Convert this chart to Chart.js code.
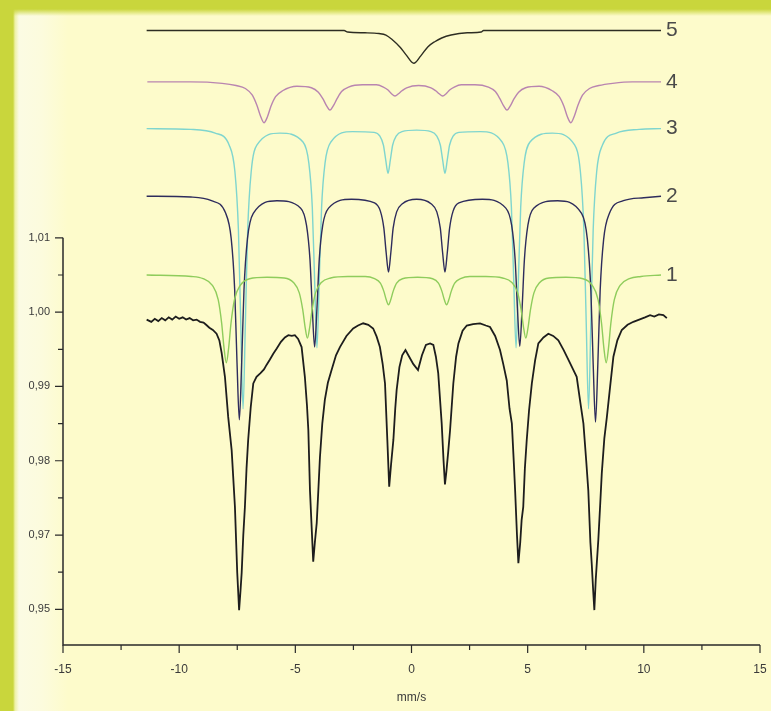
<!DOCTYPE html>
<html>
<head>
<meta charset="utf-8">
<script src="https://cdn.jsdelivr.net/npm/chart.js@4.4.1/dist/chart.umd.min.js"></script>
<style>
  html, body { margin: 0; padding: 0; background: #fdfbcb; }
  #wrap { position: relative; width: 771px; height: 711px; background: #fdfbcb; overflow: hidden; }
  .band-left { position: absolute; left: 0; top: 0; width: 70px; height: 100%;
    background: linear-gradient(to right, #c9d63c 0, #c9d63c 13px, #eef1a6 15px, #fbfbe3 19px, #fcfbdd 42px, rgba(253,251,203,0) 68px); }
  .band-top { position: absolute; left: 0; top: 0; width: 100%; height: 16px;
    background: linear-gradient(to bottom, #c9d63c 0, #c9d63c 9px, rgba(253,251,203,0) 16px); }
  canvas { position: absolute; left: 0; top: 0; }
</style>
</head>
<body>
<div id="wrap">
  <div class="band-left"></div>
  <div class="band-top"></div>
  <canvas id="spectrum" width="771" height="711"></canvas>
</div>
<script>
// Axis ticks
const X_MAJOR = [-15, -10, -5, 0, 5, 10, 15];
const X_LABELS = ['-15', '-10', '-5', '0', '5', '10', '15'];
const X_MINOR = [-12.5, -7.5, -2.5, 2.5, 7.5, 12.5];
const Y_MAJOR = [0.96, 0.97, 0.98, 0.99, 1.00, 1.01];
const Y_LABELS = ['0,95', '0,97', '0,98', '0,99', '1,00', '1,01'];
const Y_MINOR = [0.965, 0.975, 0.985, 0.995, 1.005];

// Measured spectrum [velocity mm/s, relative transmission]
const measured = [
  [-11.40,0.9990],[-11.20,0.9987],[-11.05,0.9991],[-10.90,0.9988],[-10.75,0.9992],[-10.60,0.9989],
  [-10.45,0.9993],[-10.30,0.9990],[-10.15,0.9994],[-10.00,0.9991],[-9.85,0.9993],[-9.70,0.9990],
  [-9.55,0.9992],[-9.40,0.9989],[-9.25,0.9990],[-9.10,0.9987],[-8.95,0.9986],[-8.84,0.9983],
  [-8.70,0.9979],[-8.55,0.9976],[-8.39,0.9971],[-8.27,0.9962],[-8.17,0.9945],[-8.03,0.9913],
  [-7.89,0.9859],[-7.74,0.9814],[-7.60,0.9738],[-7.50,0.9649],[-7.42,0.9599],[-7.36,0.9625],
  [-7.31,0.9649],[-7.24,0.9700],[-7.17,0.9738],[-7.10,0.9790],[-7.03,0.9828],[-6.92,0.9872],
  [-6.81,0.9904],[-6.67,0.9913],[-6.50,0.9918],[-6.35,0.9923],[-6.24,0.9929],[-6.10,0.9936],
  [-5.95,0.9944],[-5.80,0.9951],[-5.62,0.9960],[-5.45,0.9966],[-5.30,0.9969],[-5.15,0.9968],
  [-5.02,0.9969],[-4.88,0.9964],[-4.73,0.9953],[-4.59,0.9913],[-4.50,0.9875],[-4.44,0.9841],
  [-4.37,0.9760],[-4.30,0.9712],[-4.23,0.9664],[-4.16,0.9690],[-4.08,0.9716],[-4.01,0.9760],
  [-3.94,0.9805],[-3.84,0.9850],[-3.73,0.9882],[-3.60,0.9905],[-3.44,0.9922],[-3.25,0.9942],
  [-3.08,0.9953],[-2.80,0.9968],[-2.51,0.9978],[-2.30,0.9982],[-2.08,0.9985],[-1.86,0.9983],
  [-1.65,0.9978],[-1.50,0.9967],[-1.36,0.9953],[-1.24,0.9930],[-1.14,0.9904],[-1.04,0.9828],
  [-0.96,0.9765],[-0.88,0.9795],[-0.78,0.9828],[-0.70,0.9870],[-0.64,0.9895],[-0.52,0.9926],
  [-0.40,0.9942],[-0.26,0.9949],[-0.10,0.9940],[0.08,0.9930],[0.28,0.9922],[0.45,0.9942],
  [0.62,0.9956],[0.80,0.9958],[0.94,0.9956],[1.05,0.9940],[1.15,0.9918],[1.30,0.9850],
  [1.38,0.9800],[1.44,0.9768],[1.50,0.9785],[1.58,0.9812],[1.66,0.9841],[1.80,0.9904],
  [1.92,0.9940],[2.02,0.9958],[2.20,0.9975],[2.38,0.9982],[2.65,0.9984],[2.95,0.9985],
  [3.20,0.9982],[3.38,0.9980],[3.60,0.9968],[3.81,0.9949],[3.95,0.9930],[4.10,0.9908],
  [4.22,0.9870],[4.32,0.9850],[4.40,0.9800],[4.46,0.9760],[4.54,0.9700],[4.60,0.9662],
  [4.68,0.9690],[4.74,0.9720],[4.81,0.9738],[4.88,0.9790],[4.96,0.9828],[5.06,0.9868],
  [5.18,0.9904],[5.32,0.9935],[5.46,0.9958],[5.68,0.9966],[5.89,0.9971],[6.10,0.9968],
  [6.32,0.9962],[6.55,0.9949],[6.83,0.9931],[6.97,0.9922],[7.11,0.9913],[7.26,0.9880],
  [7.40,0.9850],[7.52,0.9800],[7.61,0.9760],[7.70,0.9690],[7.76,0.9660],[7.82,0.9625],
  [7.87,0.9599],[7.93,0.9640],[8.04,0.9693],[8.12,0.9740],[8.19,0.9783],[8.30,0.9830],
  [8.41,0.9859],[8.55,0.9900],[8.69,0.9940],[8.86,0.9962],[9.05,0.9976],[9.30,0.9983],
  [9.55,0.9987],[9.80,0.9990],[10.05,0.9993],[10.27,0.9996],[10.45,0.9994],[10.65,0.9997],
  [10.84,0.9996],[10.99,0.9992]
];

// Subspectrum 1 (green)
const sub1 = [
  [-11.40,1.0050],[-9.47,1.0048],[-8.97,1.0045],[-8.57,1.0036],[-8.32,1.0017],[-8.17,0.9985],
  [-8.07,0.9952],[-7.97,0.9932],[-7.87,0.9952],[-7.77,0.9985],[-7.62,1.0017],[-7.37,1.0036],
  [-6.97,1.0045],[-6.22,1.0047],[-5.48,1.0046],[-5.08,1.0040],[-4.83,1.0026],[-4.68,1.0003],
  [-4.58,0.9980],[-4.48,0.9965],[-4.38,0.9980],[-4.28,1.0003],[-4.13,1.0026],[-3.88,1.0040],
  [-3.48,1.0046],[-2.74,1.0048],[-1.99,1.0048],[-1.59,1.0045],[-1.34,1.0039],[-1.19,1.0028],
  [-1.09,1.0017],[-0.99,1.0010],[-0.89,1.0017],[-0.79,1.0028],[-0.64,1.0039],[-0.39,1.0045],
  [0.26,1.0047],[0.91,1.0045],[1.16,1.0039],[1.31,1.0028],[1.41,1.0017],[1.51,1.0010],
  [1.61,1.0017],[1.71,1.0028],[1.86,1.0039],[2.11,1.0045],[2.51,1.0048],[3.20,1.0048],
  [3.92,1.0046],[4.32,1.0040],[4.57,1.0026],[4.72,1.0003],[4.82,0.9980],[4.92,0.9965],
  [5.02,0.9980],[5.12,1.0003],[5.27,1.0026],[5.52,1.0040],[5.92,1.0046],[6.65,1.0047],
  [7.38,1.0045],[7.78,1.0036],[8.03,1.0017],[8.18,0.9985],[8.28,0.9952],[8.38,0.9932],
  [8.48,0.9952],[8.58,0.9985],[8.73,1.0017],[8.98,1.0036],[9.38,1.0045],[9.88,1.0048],
  [10.74,1.0050]
];

// Subspectrum 2 (navy)
const sub2 = [
  [-11.40,1.0156],[-9.50,1.0155],[-8.61,1.0150],[-8.01,1.0134],[-7.76,1.0099],[-7.61,1.0030],
  [-7.51,0.9932],[-7.41,0.9855],[-7.31,0.9932],[-7.21,1.0030],[-7.06,1.0099],[-6.81,1.0133],
  [-5.79,1.0150],[-4.77,1.0140],[-4.52,1.0117],[-4.37,1.0071],[-4.27,1.0005],[-4.17,0.9953],
  [-4.07,1.0005],[-3.97,1.0071],[-3.82,1.0117],[-3.57,1.0140],[-2.58,1.0152],[-1.59,1.0147],
  [-1.34,1.0136],[-1.19,1.0113],[-1.09,1.0080],[-0.99,1.0054],[-0.89,1.0080],[-0.79,1.0113],
  [-0.64,1.0135],[-0.39,1.0146],[0.22,1.0152],[0.84,1.0146],[1.09,1.0135],[1.24,1.0113],
  [1.34,1.0080],[1.44,1.0054],[1.54,1.0080],[1.64,1.0113],[1.79,1.0136],[2.04,1.0147],
  [3.05,1.0152],[4.06,1.0140],[4.31,1.0117],[4.46,1.0071],[4.56,1.0005],[4.66,0.9954],
  [4.76,1.0005],[4.86,1.0071],[5.01,1.0117],[5.26,1.0140],[6.29,1.0150],[7.32,1.0133],
  [7.57,1.0098],[7.72,1.0029],[7.82,0.9930],[7.92,0.9852],[8.02,0.9930],[8.12,1.0029],
  [8.27,1.0098],[8.52,1.0133],[9.12,1.0150],[10.00,1.0154],[10.74,1.0156]
];

// Subspectrum 3 (cyan)
const sub3 = [
  [-11.40,1.0247],[-9.50,1.0246],[-8.45,1.0241],[-7.85,1.0225],[-7.60,1.0189],[-7.45,1.0111],
  [-7.35,0.9986],[-7.25,0.9870],[-7.15,0.9986],[-7.05,1.0111],[-6.90,1.0189],[-6.65,1.0225],
  [-5.66,1.0241],[-4.67,1.0229],[-4.42,1.0201],[-4.27,1.0141],[-4.17,1.0043],[-4.07,0.9952],
  [-3.97,1.0043],[-3.87,1.0141],[-3.72,1.0201],[-3.47,1.0229],[-2.54,1.0243],[-1.61,1.0242],
  [-1.36,1.0237],[-1.21,1.0225],[-1.11,1.0205],[-1.01,1.0187],[-0.91,1.0205],[-0.81,1.0225],
  [-0.66,1.0237],[-0.41,1.0243],[0.22,1.0245],[0.84,1.0243],[1.09,1.0237],[1.24,1.0225],
  [1.34,1.0205],[1.44,1.0187],[1.54,1.0205],[1.64,1.0225],[1.79,1.0237],[2.04,1.0242],
  [2.97,1.0243],[3.90,1.0229],[4.15,1.0201],[4.30,1.0141],[4.40,1.0043],[4.50,0.9952],
  [4.60,1.0043],[4.70,1.0141],[4.85,1.0201],[5.10,1.0229],[6.06,1.0241],[7.02,1.0225],
  [7.27,1.0189],[7.42,1.0111],[7.52,0.9986],[7.62,0.9870],[7.72,0.9986],[7.82,1.0111],
  [7.97,1.0189],[8.22,1.0225],[8.82,1.0241],[9.80,1.0246],[10.74,1.0247]
];

// Subspectrum 4 (pink)
const sub4 = [
  [-11.37,1.0310],[-9.50,1.0310],[-8.15,1.0308],[-7.55,1.0305],[-7.15,1.0301],[-6.85,1.0292],
  [-6.65,1.0278],[-6.50,1.0264],[-6.35,1.0255],[-6.20,1.0263],[-6.05,1.0277],[-5.85,1.0290],
  [-5.55,1.0298],[-4.93,1.0304],[-4.31,1.0302],[-4.01,1.0296],[-3.81,1.0287],[-3.66,1.0278],
  [-3.51,1.0272],[-3.36,1.0278],[-3.21,1.0287],[-3.01,1.0297],[-2.71,1.0303],[-2.11,1.0306],
  [-1.51,1.0306],[-1.21,1.0303],[-1.01,1.0299],[-0.86,1.0294],[-0.71,1.0291],[-0.56,1.0294],
  [-0.41,1.0298],[-0.21,1.0302],[0.31,1.0305],[0.84,1.0302],[1.04,1.0298],[1.19,1.0294],
  [1.34,1.0291],[1.49,1.0294],[1.64,1.0299],[1.84,1.0303],[2.14,1.0306],[2.73,1.0306],
  [3.31,1.0303],[3.61,1.0297],[3.81,1.0287],[3.96,1.0278],[4.11,1.0272],[4.26,1.0278],
  [4.41,1.0287],[4.61,1.0296],[4.91,1.0302],[5.49,1.0304],[6.06,1.0298],[6.36,1.0290],
  [6.56,1.0277],[6.71,1.0263],[6.86,1.0255],[7.01,1.0264],[7.16,1.0278],[7.36,1.0292],
  [7.66,1.0301],[8.06,1.0305],[8.66,1.0308],[9.50,1.0310],[10.74,1.0310]
];

// Subspectrum 5 (dark)
const sub5 = [
  [-11.40,1.0379],[-2.90,1.0379],[-2.75,1.0377],[-2.00,1.0376],[-1.40,1.0375],[-1.10,1.0373],
  [-0.80,1.0366],[-0.50,1.0357],[-0.25,1.0347],[0.10,1.0335],[0.40,1.0345],[0.70,1.0357],
  [1.00,1.0364],[1.30,1.0369],[1.70,1.0373],[2.40,1.0376],[3.00,1.0377],[3.10,1.0379],
  [10.74,1.0379]
];

const components = [
  { tag: '1', points: sub1, color: '#8fcc5c' },
  { tag: '2', points: sub2, color: '#2e2c5c' },
  { tag: '3', points: sub3, color: '#7fd5ce' },
  { tag: '4', points: sub4, color: '#b985b0' },
  { tag: '5', points: sub5, color: '#2d2d22' }
];

const toXY = rows => rows.map(([x, y]) => ({ x, y }));

const datasets = [
  {
    label: 'measured',
    data: toXY(measured),
    borderColor: '#1d1d1d',
    borderWidth: 1.8,
    tension: 0
  },
  ...components.map(c => ({
    label: c.tag,
    tag: c.tag,
    data: toXY(c.points),
    borderColor: c.color,
    borderWidth: 1.4,
    cubicInterpolationMode: 'monotone'
  }))
];

/**
 * Axis lines, tick marks and curve numbers
 */
const axesPlugin = {
  id: 'axesPlugin',
  afterDraw(chart) {
    const { ctx, chartArea, scales: { x, y } } = chart;
    const left = chartArea.left;
    const bottom = chartArea.bottom;
    ctx.save();
    ctx.strokeStyle = '#2a2a2a';
    ctx.lineWidth = 1.5;
    ctx.beginPath();
    ctx.moveTo(left, y.getPixelForValue(Y_MAJOR[Y_MAJOR.length - 1]));
    ctx.lineTo(left, bottom);
    ctx.lineTo(chartArea.right, bottom);
    ctx.stroke();

    ctx.lineWidth = 1.2;
    ctx.beginPath();
    Y_MAJOR.forEach(v => { const p = y.getPixelForValue(v); ctx.moveTo(left - 8, p); ctx.lineTo(left, p); });
    Y_MINOR.forEach(v => { const p = y.getPixelForValue(v); ctx.moveTo(left - 5, p); ctx.lineTo(left, p); });
    X_MAJOR.forEach(v => { const p = x.getPixelForValue(v); ctx.moveTo(p, bottom); ctx.lineTo(p, bottom + 8); });
    X_MINOR.forEach(v => { const p = x.getPixelForValue(v); ctx.moveTo(p, bottom); ctx.lineTo(p, bottom + 5); });
    ctx.stroke();

    // curve numbers at the right end of each subspectrum
    ctx.fillStyle = '#4a4a4a';
    ctx.font = '21px "Liberation Sans", Arial, sans-serif';
    ctx.textAlign = 'left';
    ctx.textBaseline = 'middle';
    chart.data.datasets.forEach(ds => {
      if (!ds.tag) return;
      const last = ds.data[ds.data.length - 1];
      ctx.fillText(ds.tag, x.getPixelForValue(last.x) + 5, y.getPixelForValue(last.y));
    });
    ctx.restore();
  }
};

new Chart(document.getElementById('spectrum'), {
  type: 'scatter',
  data: { datasets },
  plugins: [axesPlugin],
  options: {
    responsive: false,
    animation: false,
    devicePixelRatio: 1,
    showLine: true,
    elements: { point: { radius: 0, hoverRadius: 0 } },
    layout: { padding: { top: 12, right: 11, left: 0, bottom: 0 } },
    plugins: { legend: { display: false }, tooltip: { enabled: false } },
    scales: {
      x: {
        type: 'linear',
        min: -15,
        max: 15,
        afterFit: s => { s.height = 66; },
        afterBuildTicks: s => { s.ticks = X_MAJOR.map(v => ({ value: v })); },
        // tick marks are drawn by the plugin; tickLength only offsets the labels
        grid: { display: false, drawTicks: true, tickLength: 17 },
        border: { display: false },
        ticks: {
          padding: 0,
          maxRotation: 0,
          autoSkip: false,
          color: '#3a3a3a',
          font: { family: '"Liberation Sans", Arial, sans-serif', size: 12 },
          callback: (v, i) => X_LABELS[i]
        },
        title: {
          display: true,
          text: 'mm/s',
          color: '#3a3a3a',
          font: { family: '"Liberation Sans", Arial, sans-serif', size: 12 },
          padding: { top: 0, bottom: 6 }
        }
      },
      y: {
        type: 'linear',
        min: 0.9552,
        max: 1.0404,
        afterFit: s => { s.width = 63; },
        afterBuildTicks: s => { s.ticks = Y_MAJOR.map(v => ({ value: v })); },
        grid: { display: false, drawTicks: true, tickLength: 13 },
        border: { display: false },
        ticks: {
          padding: 0,
          autoSkip: false,
          color: '#3a3a3a',
          font: { family: '"Liberation Sans", Arial, sans-serif', size: 11 },
          callback: (v, i) => Y_LABELS[i]
        }
      }
    }
  }
});
</script>
</body>
</html>
